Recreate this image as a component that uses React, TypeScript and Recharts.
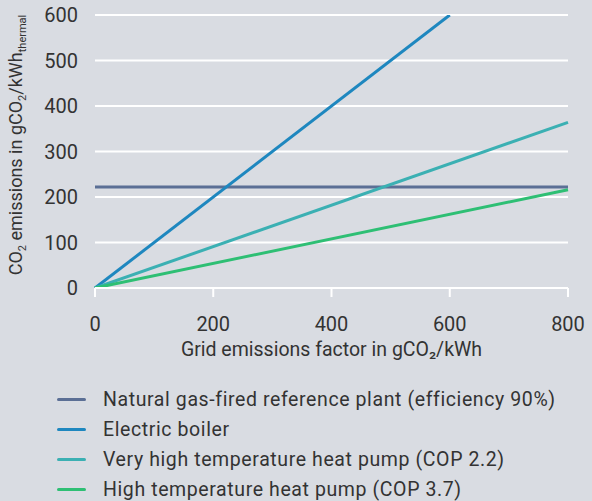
import React from "react";
import { LineChart, Line, XAxis, YAxis, CartesianGrid, Legend } from "recharts";

const xTicks = [0, 200, 400, 600, 800];
const yTicks = [0, 100, 200, 300, 400, 500, 600];

const gasPlant = [
  { x: 0, y: 222 },
  { x: 800, y: 222 },
];
const electricBoiler = [
  { x: 0, y: 0 },
  { x: 600, y: 600 },
];
const veryHighHP = [
  { x: 0, y: 0 },
  { x: 800, y: 364 },
];
const highHP = [
  { x: 0, y: 0 },
  { x: 800, y: 216 },
];

const seriesNames = [
  "Natural gas-fired reference plant (efficiency 90%)",
  "Electric boiler",
  "Very high temperature heat pump (COP 2.2)",
  "High temperature heat pump (COP 3.7)",
];
const colors = ["#5b6f95", "#1e87bf", "#3bb0b3", "#2ebf74"];

const FONT = "Roboto, 'DejaVu Sans', sans-serif";
const TEXT = "#333333";
const WEIGHT = 400;

const LegendContent = () => (
  <div style={{ fontFamily: FONT, fontSize: 19.5, fontWeight: WEIGHT, color: TEXT, letterSpacing: 0.6 }}>
    {seriesNames.map((n, i) => (
      <div key={n} style={{ display: "flex", alignItems: "center", height: 30 }}>
        <div style={{ width: 29, height: 3, background: colors[i], borderRadius: 2, marginRight: 17 }} />
        <span>{n}</span>
      </div>
    ))}
  </div>
);

const YLabel = () => (
  <text
    transform="translate(22,145) rotate(-90)"
    textAnchor="middle"
    fontFamily={FONT}
    fontSize={18}
    fontWeight={WEIGHT}
    fill={TEXT}
  >
    <tspan>CO</tspan>
    <tspan fontSize={11} dy={4}>2</tspan>
    <tspan dy={-4}> emissions in gCO</tspan>
    <tspan fontSize={11} dy={4}>2</tspan>
    <tspan dy={-4}>/kWh</tspan>
    <tspan fontSize={11} dy={4}>thermal</tspan>
  </text>
);

export default function App() {
  return (
    <div style={{ position: "absolute", left: 0, top: 0, width: 592, height: 501, background: "#d9dce2" }}>
      <LineChart width={592} height={501} margin={{ top: 15, right: 24, left: 0, bottom: 0 }}>
        <CartesianGrid horizontal vertical={false} stroke="#ffffff" strokeWidth={2} />
        <XAxis
          type="number"
          dataKey="x"
          domain={[0, 800]}
          ticks={xTicks}
          height={213}
          stroke="#ffffff"
          axisLine={{ stroke: "#ffffff", strokeWidth: 2 }}
          tickLine={{ stroke: "#ffffff", strokeWidth: 2 }}
          tickSize={9}
          tick={{ fill: TEXT, fontSize: 20, fontWeight: WEIGHT, fontFamily: FONT, dy: 18 }}
          label={{
            value: "Grid emissions factor in gCO₂/kWh",
            position: "insideTop",
            offset: 54,
            fill: TEXT,
            fontSize: 19.5,
            fontWeight: WEIGHT,
            fontFamily: FONT,
          }}
        />
        <YAxis
          type="number"
          dataKey="y"
          domain={[0, 600]}
          ticks={yTicks}
          width={95}
          allowDataOverflow
          axisLine={false}
          tickLine={false}
          tick={{ fill: TEXT, fontSize: 20, fontWeight: WEIGHT, fontFamily: FONT, dx: -9 }}
          label={<YLabel />}
        />
        <Legend
          layout="horizontal"
          verticalAlign="middle"
          align="center"
          content={<LegendContent />}
          wrapperStyle={{ position: "absolute", left: 57, top: 384, width: 530 }}
        />
        <Line data={gasPlant} dataKey="y" name={seriesNames[0]} stroke={colors[0]} strokeWidth={3} dot={false} isAnimationActive={false} />
        <Line data={electricBoiler} dataKey="y" name={seriesNames[1]} stroke={colors[1]} strokeWidth={3} dot={false} isAnimationActive={false} />
        <Line data={veryHighHP} dataKey="y" name={seriesNames[2]} stroke={colors[2]} strokeWidth={3} dot={false} isAnimationActive={false} />
        <Line data={highHP} dataKey="y" name={seriesNames[3]} stroke={colors[3]} strokeWidth={3} dot={false} isAnimationActive={false} />
      </LineChart>
    </div>
  );
}
